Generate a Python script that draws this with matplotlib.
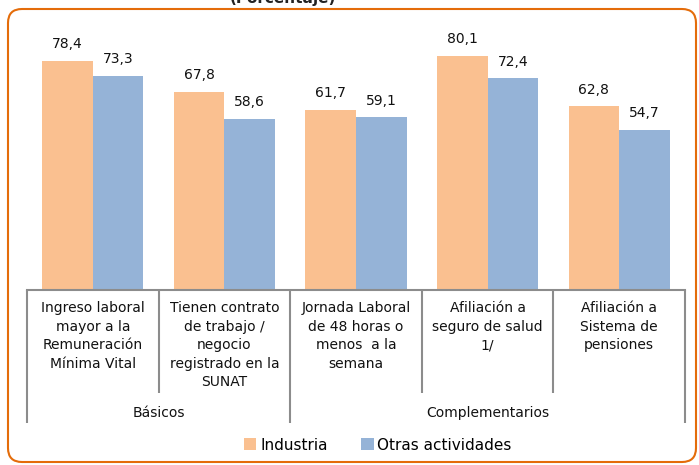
import matplotlib.pyplot as plt
import matplotlib.transforms as mtransforms
from matplotlib.patches import FancyBboxPatch
import numpy as np

categorias = ["Ingreso laboral\nmayor a la\nRemuneración\nMínima Vital",
              "Tienen contrato\nde trabajo /\nnegocio\nregistrado en la\nSUNAT",
              "Jornada Laboral\nde 48 horas o\nmenos  a la\nsemana",
              "Afiliación a\nseguro de salud\n1/",
              "Afiliación a\nSistema de\npensiones"]
grupos = ["Básicos", "Complementarios"]
grupo_limites = [(0, 2), (2, 5)]
industria = [78.4, 67.8, 61.7, 80.1, 62.8]
otras = [73.3, 58.6, 59.1, 72.4, 54.7]

c_ind = "#FAC090"
c_otr = "#95B3D7"
gris = "#8C8C8C"
fs = 10

W, H = 699, 465
fig = plt.figure(figsize=(W / 100, H / 100), dpi=100)
ax = fig.add_axes([27 / W, 1 - 290 / H, (685 - 27) / W, (290 - 27) / H])

x = np.arange(len(categorias))
w = 0.385
b1 = ax.bar(x - w / 2, industria, w, color=c_ind, label="Industria")
b2 = ax.bar(x + w / 2, otras, w, color=c_otr, label="Otras actividades")
for bars in (b1, b2):
    for r in bars:
        ax.annotate(f"{r.get_height():.1f}".replace(".", ","),
                    (r.get_x() + r.get_width() / 2, r.get_height()),
                    xytext=(0, 7), textcoords="offset points",
                    ha="center", va="bottom", fontsize=fs, color="#111111")

ax.set_xlim(-0.5, len(categorias) - 0.5)
ax.set_ylim(0, 90)
for s in ["top", "right", "left"]:
    ax.spines[s].set_visible(False)
ax.spines["bottom"].set_color(gris)
ax.spines["bottom"].set_linewidth(1.5)
ax.set_yticks([])
ax.set_xticks([])

tr = mtransforms.blended_transform_factory(ax.transData, fig.transFigure)
y0 = 1 - 290 / H
y_cat = 1 - 393 / H
y_grp = 1 - 423 / H
for i, cat in enumerate(categorias):
    ax.text(i, 1 - 301 / H, cat, transform=tr, ha="center", va="top",
            fontsize=fs, linespacing=1.42, color="#111111")
bordes_grupo = set(b - 0.5 for g in grupo_limites for b in g)
for b in np.arange(-0.5, len(categorias), 1.0):
    ylow = y_grp if b in bordes_grupo else y_cat
    ax.plot([b, b], [y0, ylow], transform=tr, color=gris, lw=1.5,
            clip_on=False, solid_capstyle="butt")
for g, (a, c) in zip(grupos, grupo_limites):
    ax.text((a + c - 1) / 2, 1 - 413 / H, g, transform=tr, ha="center",
            va="center", fontsize=fs, color="#111111")

fig.legend(handles=[b1, b2], loc="center", bbox_to_anchor=(378 / W, 1 - 445 / H),
           ncol=2, frameon=False, fontsize=11, handlelength=0.8,
           handleheight=0.8, handletextpad=0.25, columnspacing=2.2)

fig.text(283 / W, 1 - 3 / H, "(Porcentaje)", ha="center", va="baseline",
         fontsize=11, fontweight="bold", color="#222222")

borde = FancyBboxPatch((8, 3), 688, 453, boxstyle="round,pad=0,rounding_size=14",
                       transform=mtransforms.IdentityTransform(),
                       facecolor="none", edgecolor="#E46C0A", lw=1.5)
fig.add_artist(borde)

fig.savefig("out.png", dpi=100)
